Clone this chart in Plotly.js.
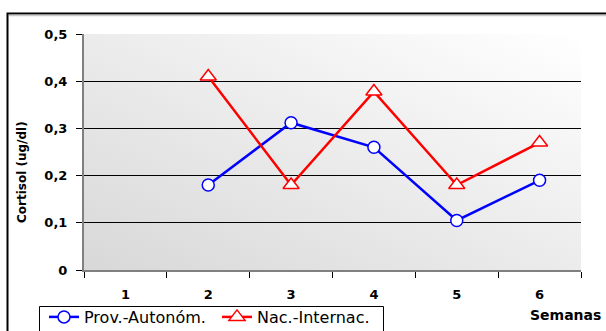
<!DOCTYPE html>
<html><head><meta charset="utf-8">
<script src="https://cdn.plot.ly/plotly-3.0.1.min.js"></script>
<style>html,body{margin:0;padding:0;background:#fff;}#chart{width:606px;height:331px;}</style>
</head><body><div id="chart"></div>
<script>
const weeks = ['1','2','3','4','5','6'];
const provAuton = [null, 0.18, 0.312, 0.26, 0.105, 0.19];
const nacInter = [null, 0.41, 0.18, 0.378, 0.18, 0.27];
const yTickVals = [0, 0.1, 0.2, 0.3, 0.4, 0.5];
const yTickText = ['0', '0,1', '0,2', '0,3', '0,4', '0,5'];
const seriesNames = ['Prov.-Autonóm.', 'Nac.-Internac.'];

const L = 84, R = 581, T = 34, B = 270, W = 606, H = 331;
const pw = R - L, ph = B - T;
const px = x => (x - L) / pw;
const py = y => (B - y) / ph;
const BOLD = '"DejaVu Sans", Arial, sans-serif';

const bgSvg = "data:image/svg+xml;utf8," + encodeURIComponent(
 '<svg xmlns="http://www.w3.org/2000/svg" width="500" height="240" preserveAspectRatio="none">' +
 '<defs><linearGradient id="g" x1="0" y1="1" x2="1" y2="0">' +
 '<stop offset="0" stop-color="#d8d8d8"/><stop offset="1" stop-color="#ffffff"/></linearGradient></defs>' +
 '<rect width="500" height="240" fill="url(#g)"/></svg>');

const traces = [
 {x: weeks, y: provAuton, name: seriesNames[0], type: 'scatter', mode: 'lines+markers',
  line: {color: '#0000ff', width: 2.5},
  marker: {symbol: 'circle', size: 12, color: '#ffffff', line: {color: '#0000ff', width: 1.5}}},
 {x: weeks, y: nacInter, name: seriesNames[1], type: 'scatter', mode: 'lines+markers',
  line: {color: '#ff0000', width: 2.5},
  marker: {symbol: 'triangle-up', size: 14, color: '#ffffff', line: {color: '#ff0000', width: 1.5}}}
];

const layout = {
 width: W, height: H,
 margin: {l: L, r: W - R, t: T, b: H - B, pad: 0, autoexpand: false},
 paper_bgcolor: '#ffffff', plot_bgcolor: 'rgba(0,0,0,0)',
 separators: ',.',
 font: {family: 'Arial, "Liberation Sans", sans-serif', color: '#000'},
 showlegend: true,
 legend: {orientation: 'h', xref: 'container', yref: 'container', x: 44 / W, y: 1 - 300 / H,
  xanchor: 'left', yanchor: 'top', entrywidth: 128,
  borderwidth: 0, bgcolor: 'rgba(0,0,0,0)',
  font: {size: 16, family: '"DejaVu Sans", Arial, sans-serif'}, tracegroupgap: 0},
 xaxis: {type: 'category', range: [-0.5, 5.5], showgrid: false, zeroline: false, automargin: false,
  showline: true, linecolor: '#808080', linewidth: 2,
  ticks: 'outside', tickson: 'boundaries', ticklen: 6, tickcolor: '#000', tickwidth: 1,
  tickfont: {size: 13, family: BOLD, weight: 'bold'},
  ticklabelstandoff: 11, fixedrange: true},
 yaxis: {range: [0, 0.5], tickvals: yTickVals, ticktext: yTickText, automargin: false,
  showgrid: true, gridcolor: '#000', gridwidth: 1, zeroline: false,
  showline: true, linecolor: '#808080', linewidth: 2,
  ticks: 'outside', ticklen: 6, tickcolor: '#000', tickwidth: 1,
  tickfont: {size: 13, family: BOLD, weight: 'bold'},
  ticklabelstandoff: 6, fixedrange: true},
 images: [{source: bgSvg, xref: 'paper', yref: 'paper', x: 0, y: 1, sizex: 1, sizey: 1,
  xanchor: 'left', yanchor: 'top', sizing: 'stretch', layer: 'below'}],
 shapes: [
  {type: 'rect', xref: 'paper', yref: 'paper', x0: px(7.5), x1: px(640), y0: py(400), y1: py(13.5),
   line: {color: '#000', width: 2}, fillcolor: 'rgba(0,0,0,0)', layer: 'above'},
  {type: 'line', xref: 'paper', yref: 'paper', x0: px(9), x1: px(606), y0: py(15.5), y1: py(15.5),
   line: {color: '#c8c8c8', width: 1.5}},
  {type: 'rect', xref: 'paper', yref: 'paper', x0: px(39.5), x1: px(383.5), y0: py(350), y1: py(306.5),
   line: {color: '#000', width: 1}, fillcolor: '#ffffff', layer: 'above'}
 ],
 annotations: [
  {text: '<b>Cortisol (ug/dl)</b>', xref: 'paper', yref: 'paper', x: px(22), y: py(172),
   xanchor: 'center', yanchor: 'middle',
   textangle: -90, showarrow: false, font: {size: 12, family: BOLD}},
  {text: '<b>Semanas</b>', xref: 'paper', yref: 'paper', x: px(565), y: py(315),
   xanchor: 'center', yanchor: 'middle',
   showarrow: false, font: {size: 14, family: BOLD}}
 ]
};

Plotly.newPlot('chart', traces, layout, {displayModeBar: false, staticPlot: true});
</script></body></html>
